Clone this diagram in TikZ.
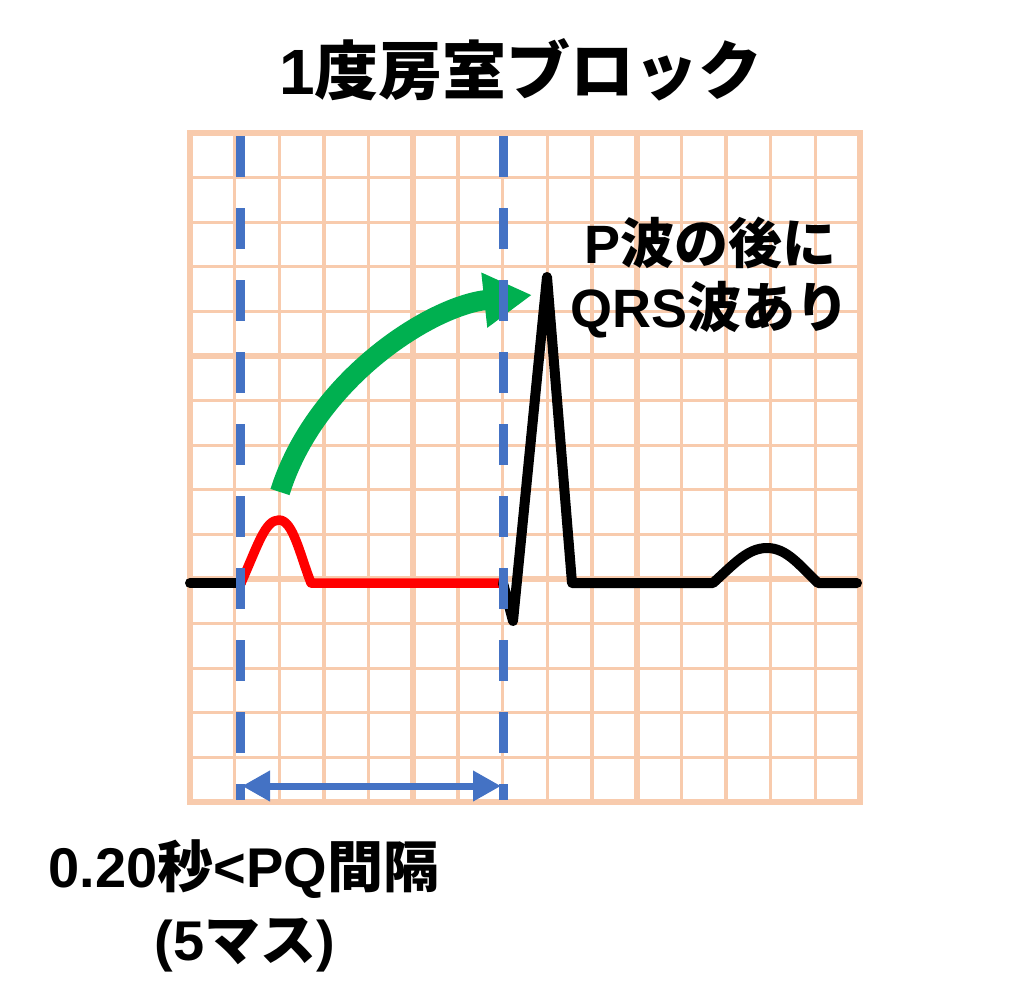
\documentclass[tikz,border=0pt]{standalone}
\usepackage{fontspec}
\setmainfont{Liberation Sans}
\newfontfamily\jp{Noto Sans CJK JP}
\usetikzlibrary{arrows.meta}
\definecolor{gridc}{HTML}{F8CBAD}
\definecolor{bluec}{HTML}{4472C4}
\definecolor{greenc}{HTML}{00B050}
\tikzset{
  thingrid/.style={gridc, line width=3.2},
  thickgrid/.style={gridc, line width=6},
  ecg/.style={black, line width=10, line cap=round, line join=round},
  pwave/.style={red, line width=9.5, line cap=round, line join=round},
  garrow/.style={greenc, line width=20, -{Triangle[length=48pt,width=52pt]}},
  bdash/.style={bluec, line width=9, dash pattern=on 41pt off 31pt},
  barrow/.style={bluec, line width=7, {Triangle[length=28pt,width=29pt]}-{Triangle[length=28pt,width=29pt]}},
  lbl/.style={anchor=base, inner sep=0pt, font=\bfseries},
}
\begin{document}
\begin{tikzpicture}[x=1pt,y=-1pt]
\useasboundingbox (0,0) rectangle (1024,1003);
% grid
\foreach \i in {1,2,3,4,6,7,8,9,11,12,13,14} {
  \draw[thingrid] (190+\i*44.667,133) -- (190+\i*44.667,802);
  \draw[thingrid] (190,133+\i*44.6) -- (860,133+\i*44.6);
}
\foreach \i in {5,10} {
  \draw[thickgrid] (190+\i*44.667,133) -- (190+\i*44.667,802);
  \draw[thickgrid] (190,133+\i*44.6) -- (860,133+\i*44.6);
}
\draw[thickgrid] (190,133) rectangle (860,802);
% waveform
\coordinate (b0) at (190,583);
\coordinate (pstart) at (241,583);
\coordinate (ppeak) at (279,520);
\coordinate (pend) at (311,583);
\coordinate (qrsstart) at (503,583);
\coordinate (q) at (513,621);
\coordinate (r) at (547,277);
\coordinate (s) at (572,583);
\coordinate (tstart) at (713,583);
\coordinate (tpeak) at (767,548);
\coordinate (tend) at (818,583);
\coordinate (bend) at (857,583);
\draw[ecg] (b0) -- (pstart);
\draw[pwave] (pstart) .. controls (258,545) and (265,520) .. (ppeak)
  .. controls (293,520) and (300,555) .. (pend) -- (qrsstart);
\draw[ecg] (qrsstart) -- (q) -- (r) -- (s) -- (tstart)
  .. controls (735,563) and (748,548) .. (tpeak)
  .. controls (787,548) and (800,566) .. (tend) -- (bend);
% green arrow
\coordinate (gs) at (280,492);
\coordinate (ge) at (532,295);
\draw[garrow] (gs) .. controls (315,380) and (430,306) .. (ge);
% blue dashed lines
\coordinate (d1t) at (240,136);
\coordinate (d1b) at (240,800);
\coordinate (d2t) at (503,136);
\coordinate (d2b) at (503,800);
\draw[bdash] (d1t) -- (d1b);
\draw[bdash] (d2t) -- (d2b);
\coordinate (a1) at (242,786);
\coordinate (a2) at (501,786);
\draw[barrow] (a1) -- (a2);
% texts
\node[lbl, font=\fontsize{64}{64}\selectfont\bfseries] (title) at (521,95) {1{\jp 度房室ブロック}};
\node[lbl, font=\fontsize{54}{54}\selectfont\bfseries] (note1) at (710,263) {P{\jp 波の後に}};
\node[lbl, font=\fontsize{54}{54}\selectfont\bfseries] (note2) at (710,327) {QRS{\jp 波あり}};
\node[lbl, font=\fontsize{56}{56}\selectfont\bfseries] (pq1) at (244,887) {0.20{\jp 秒}<PQ{\jp 間隔}};
\node[lbl, font=\fontsize{56}{56}\selectfont\bfseries] (pq2) at (245,960) {(5{\jp マス})};
\end{tikzpicture}
\end{document}
